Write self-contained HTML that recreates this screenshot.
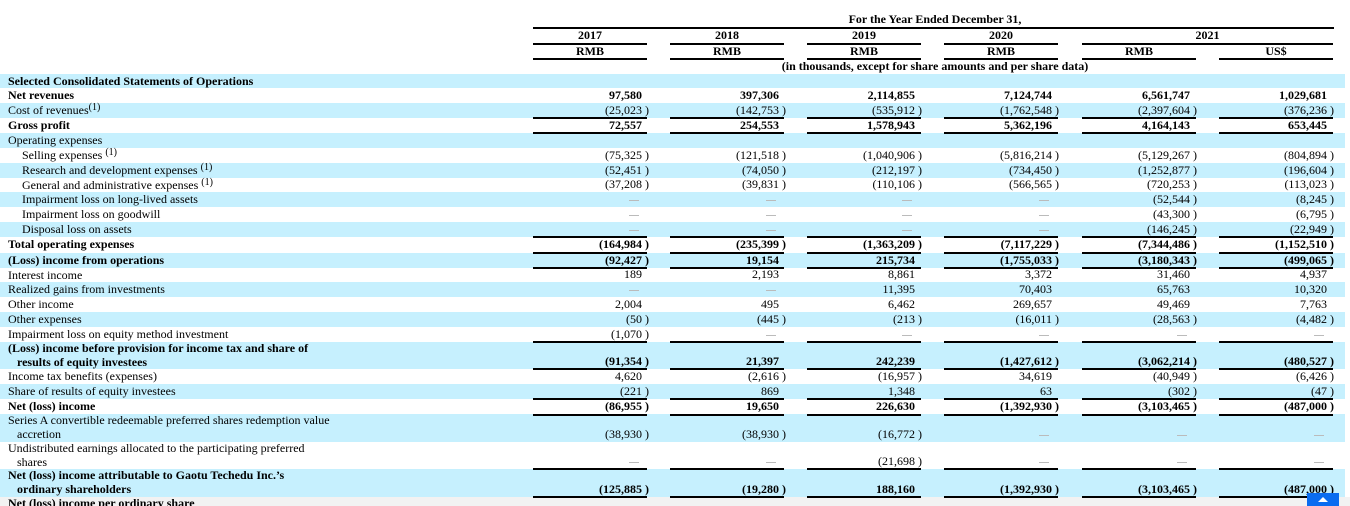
<!DOCTYPE html>
<html><head><meta charset="utf-8"><style>
*{margin:0;padding:0;box-sizing:border-box}
body{width:1350px;height:506px;overflow:hidden;background:#fff;position:relative;font-family:"Liberation Serif",serif;font-size:12px;letter-spacing:0;color:#000}
.r{position:absolute;left:0;width:1345px}
.b{background:#c6f0fe}
.lb{position:absolute;left:8px;white-space:nowrap;line-height:15px}
.in{left:22px}
.bold{font-weight:bold}
.n{position:absolute;white-space:nowrap;text-align:right;line-height:15px;bottom:0}
.n i{position:absolute;left:100%;margin-left:3px;font-style:normal}
.c1{right:703px}.c2{right:566px}.c3{right:430px}.c4{right:293px}.c5{right:155px}.c6{right:18px}
.d{position:absolute;bottom:6px;width:10px;height:1.5px;background:#bbb}
.d.c1{right:706px}.d.c2{right:569px}.d.c3{right:433px}.d.c4{right:296px}.d.c5{right:158px}.d.c6{right:21px}
.L{position:absolute;left:0;width:1350px;height:1.5px}
.L span{position:absolute;top:0;height:1.5px;width:114px;background:#000}
.L span:nth-child(1){left:533px}.L span:nth-child(2){left:670px}.L span:nth-child(3){left:807px}.L span:nth-child(4){left:944px}.L span:nth-child(5){left:1082px}.L span:nth-child(6){left:1219px}
sup{font-size:10px;vertical-align:4px;line-height:0}
.h{position:absolute;font-weight:bold;text-align:center;white-space:nowrap;line-height:14px}
</style></head><body>
<div class="h" style="left:735px;width:400px;top:12px">For the Year Ended December 31,</div>
<div style="position:absolute;left:533px;top:27px;width:801px;height:1.5px;background:#000"></div>
<div class="h" style="left:533px;width:114px;top:28px">2017</div>
<div class="h" style="left:670px;width:114px;top:28px">2018</div>
<div class="h" style="left:807px;width:114px;top:28px">2019</div>
<div class="h" style="left:944px;width:114px;top:28px">2020</div>
<div class="h" style="left:1082px;width:251px;top:28px">2021</div>
<div class="L" style="top:43px"><span></span><span></span><span></span><span></span><span style="width:251px"></span></div>
<div class="h" style="left:533px;width:114px;top:44px">RMB</div>
<div class="h" style="left:670px;width:114px;top:44px">RMB</div>
<div class="h" style="left:807px;width:114px;top:44px">RMB</div>
<div class="h" style="left:944px;width:114px;top:44px">RMB</div>
<div class="h" style="left:1082px;width:114px;top:44px">RMB</div>
<div class="h" style="left:1219px;width:114px;top:44px">US$</div>
<div class="L" style="top:58px"><span></span><span></span><span></span><span></span><span></span><span></span></div>
<div class="h" style="left:685px;width:500px;top:59px">(in thousands, except for share amounts and per share data)</div>

<div class="r b" style="top:74px;height:14px"><div class="lb bold" style="top:0">Selected Consolidated Statements of Operations</div></div>
<div class="r bold" style="top:88px;height:15px"><div class="lb">Net revenues</div><div class="n c1">97,580</div><div class="n c2">397,306</div><div class="n c3">2,114,855</div><div class="n c4">7,124,744</div><div class="n c5">6,561,747</div><div class="n c6">1,029,681</div></div>
<div class="r b" style="top:103px;height:15px"><div class="lb">Cost of revenues<sup>(1)</sup></div><div class="n c1">(25,023<i>)</i></div><div class="n c2">(142,753<i>)</i></div><div class="n c3">(535,912<i>)</i></div><div class="n c4">(1,762,548<i>)</i></div><div class="n c5">(2,397,604<i>)</i></div><div class="n c6">(376,236<i>)</i></div></div>
<div class="r bold" style="top:118px;height:15px"><div class="lb">Gross profit</div><div class="n c1">72,557</div><div class="n c2">254,553</div><div class="n c3">1,578,943</div><div class="n c4">5,362,196</div><div class="n c5">4,164,143</div><div class="n c6">653,445</div></div>
<div class="r b" style="top:133px;height:15px"><div class="lb">Operating expenses</div></div>
<div class="r" style="top:148px;height:15px"><div class="lb in">Selling expenses <sup>(1)</sup></div><div class="n c1">(75,325<i>)</i></div><div class="n c2">(121,518<i>)</i></div><div class="n c3">(1,040,906<i>)</i></div><div class="n c4">(5,816,214<i>)</i></div><div class="n c5">(5,129,267<i>)</i></div><div class="n c6">(804,894<i>)</i></div></div>
<div class="r b" style="top:163px;height:15px"><div class="lb in">Research and development expenses <sup>(1)</sup></div><div class="n c1">(52,451<i>)</i></div><div class="n c2">(74,050<i>)</i></div><div class="n c3">(212,197<i>)</i></div><div class="n c4">(734,450<i>)</i></div><div class="n c5">(1,252,877<i>)</i></div><div class="n c6">(196,604<i>)</i></div></div>
<div class="r" style="top:178px;height:14px"><div class="lb in">General and administrative expenses <sup>(1)</sup></div><div class="n c1">(37,208<i>)</i></div><div class="n c2">(39,831<i>)</i></div><div class="n c3">(110,106<i>)</i></div><div class="n c4">(566,565<i>)</i></div><div class="n c5">(720,253<i>)</i></div><div class="n c6">(113,023<i>)</i></div></div>
<div class="r b" style="top:192px;height:15px"><div class="lb in">Impairment loss on long-lived assets</div><b class="d c1"></b><b class="d c2"></b><b class="d c3"></b><b class="d c4"></b><div class="n c5">(52,544<i>)</i></div><div class="n c6">(8,245<i>)</i></div></div>
<div class="r" style="top:207px;height:15px"><div class="lb in">Impairment loss on goodwill</div><b class="d c1"></b><b class="d c2"></b><b class="d c3"></b><b class="d c4"></b><div class="n c5">(43,300<i>)</i></div><div class="n c6">(6,795<i>)</i></div></div>
<div class="r b" style="top:222px;height:15px"><div class="lb in">Disposal loss on assets</div><b class="d c1"></b><b class="d c2"></b><b class="d c3"></b><b class="d c4"></b><div class="n c5">(146,245<i>)</i></div><div class="n c6">(22,949<i>)</i></div></div>
<div class="r bold" style="top:237px;height:15px"><div class="lb">Total operating expenses</div><div class="n c1">(164,984<i>)</i></div><div class="n c2">(235,399<i>)</i></div><div class="n c3">(1,363,209<i>)</i></div><div class="n c4">(7,117,229<i>)</i></div><div class="n c5">(7,344,486<i>)</i></div><div class="n c6">(1,152,510<i>)</i></div></div>
<div class="r b bold" style="top:253px;height:15px"><div class="lb">(Loss) income from operations</div><div class="n c1">(92,427<i>)</i></div><div class="n c2">19,154</div><div class="n c3">215,734</div><div class="n c4">(1,755,033<i>)</i></div><div class="n c5">(3,180,343<i>)</i></div><div class="n c6">(499,065<i>)</i></div></div>
<div class="r" style="top:268px;height:14px"><div class="lb">Interest income</div><div class="n c1">189</div><div class="n c2">2,193</div><div class="n c3">8,861</div><div class="n c4">3,372</div><div class="n c5">31,460</div><div class="n c6">4,937</div></div>
<div class="r b" style="top:282px;height:15px"><div class="lb">Realized gains from investments</div><b class="d c1"></b><b class="d c2"></b><div class="n c3">11,395</div><div class="n c4">70,403</div><div class="n c5">65,763</div><div class="n c6">10,320</div></div>
<div class="r" style="top:297px;height:15px"><div class="lb">Other income</div><div class="n c1">2,004</div><div class="n c2">495</div><div class="n c3">6,462</div><div class="n c4">269,657</div><div class="n c5">49,469</div><div class="n c6">7,763</div></div>
<div class="r b" style="top:312px;height:15px"><div class="lb">Other expenses</div><div class="n c1">(50<i>)</i></div><div class="n c2">(445<i>)</i></div><div class="n c3">(213<i>)</i></div><div class="n c4">(16,011<i>)</i></div><div class="n c5">(28,563<i>)</i></div><div class="n c6">(4,482<i>)</i></div></div>
<div class="r" style="top:327px;height:15px"><div class="lb">Impairment loss on equity method investment</div><div class="n c1">(1,070<i>)</i></div><b class="d c2"></b><b class="d c3"></b><b class="d c4"></b><b class="d c5"></b><b class="d c6"></b></div>
<div class="r b bold" style="top:342px;height:27px"><div class="lb" style="line-height:13.5px;top:0">(Loss) income before provision for income tax and share of<br>&nbsp;&nbsp;&nbsp;results of equity investees</div><div class="n c1">(91,354<i>)</i></div><div class="n c2">21,397</div><div class="n c3">242,239</div><div class="n c4">(1,427,612<i>)</i></div><div class="n c5">(3,062,214<i>)</i></div><div class="n c6">(480,527<i>)</i></div></div>
<div class="r" style="top:369px;height:15px"><div class="lb">Income tax benefits (expenses)</div><div class="n c1">4,620</div><div class="n c2">(2,616<i>)</i></div><div class="n c3">(16,957<i>)</i></div><div class="n c4">34,619</div><div class="n c5">(40,949<i>)</i></div><div class="n c6">(6,426<i>)</i></div></div>
<div class="r b" style="top:384px;height:15px"><div class="lb">Share of results of equity investees</div><div class="n c1">(221<i>)</i></div><div class="n c2">869</div><div class="n c3">1,348</div><div class="n c4">63</div><div class="n c5">(302<i>)</i></div><div class="n c6">(47<i>)</i></div></div>
<div class="r bold" style="top:399px;height:15px"><div class="lb">Net (loss) income</div><div class="n c1">(86,955<i>)</i></div><div class="n c2">19,650</div><div class="n c3">226,630</div><div class="n c4">(1,392,930<i>)</i></div><div class="n c5">(3,103,465<i>)</i></div><div class="n c6">(487,000<i>)</i></div></div>
<div class="r b" style="top:414px;height:28px"><div class="lb" style="line-height:13.5px;top:0">Series A convertible redeemable preferred shares redemption value<br>&nbsp;&nbsp;&nbsp;accretion</div><div class="n c1">(38,930<i>)</i></div><div class="n c2">(38,930<i>)</i></div><div class="n c3">(16,772<i>)</i></div><b class="d c4"></b><b class="d c5"></b><b class="d c6"></b></div>
<div class="r" style="top:442px;height:27px"><div class="lb" style="line-height:13.5px;top:0">Undistributed earnings allocated to the participating preferred<br>&nbsp;&nbsp;&nbsp;shares</div><b class="d c1"></b><b class="d c2"></b><div class="n c3">(21,698<i>)</i></div><b class="d c4"></b><b class="d c5"></b><b class="d c6"></b></div>
<div class="r b bold" style="top:469px;height:28px"><div class="lb" style="line-height:13.5px;top:0">Net (loss) income attributable to Gaotu Techedu Inc.’s<br>&nbsp;&nbsp;&nbsp;ordinary shareholders</div><div class="n c1">(125,885<i>)</i></div><div class="n c2">(19,280<i>)</i></div><div class="n c3">188,160</div><div class="n c4">(1,392,930<i>)</i></div><div class="n c5">(3,103,465<i>)</i></div><div class="n c6">(487,000<i>)</i></div></div>
<div class="r bold" style="top:497px;height:9px;width:1350px;background:#f2f2f2;overflow:hidden"><div class="lb" style="top:0;line-height:12px">Net (loss) income per ordinary share</div></div>

<div class="L" style="top:117px"><span></span><span></span><span></span><span></span><span></span><span></span></div>
<div class="L" style="top:132px"><span></span><span></span><span></span><span></span><span></span><span></span></div>
<div class="L" style="top:236px"><span></span><span></span><span></span><span></span><span></span><span></span></div>
<div class="L" style="top:252px"><span></span><span></span><span></span><span></span><span></span><span></span></div>
<div class="L" style="top:267px"><span></span><span></span><span></span><span></span><span></span><span></span></div>
<div class="L" style="top:341px"><span></span><span></span><span></span><span></span><span></span><span></span></div>
<div class="L" style="top:368px"><span></span><span></span><span></span><span></span><span></span><span></span></div>
<div class="L" style="top:398px"><span></span><span></span><span></span><span></span><span></span><span></span></div>
<div class="L" style="top:414px"><span></span><span></span><span></span><span></span><span></span><span></span></div>
<div class="L" style="top:468px"><span></span><span></span><span></span><span></span><span></span><span></span></div>
<div class="L" style="top:496px"><span></span><span></span><span></span><span></span><span></span><span></span></div>

<div style="position:absolute;left:1307px;top:493px;width:32px;height:13px;background:#0a6cf0"><div style="position:absolute;left:11px;top:4px;width:0;height:0;border-left:5px solid transparent;border-right:5px solid transparent;border-bottom:5px solid #fff"></div></div>
</body></html>
